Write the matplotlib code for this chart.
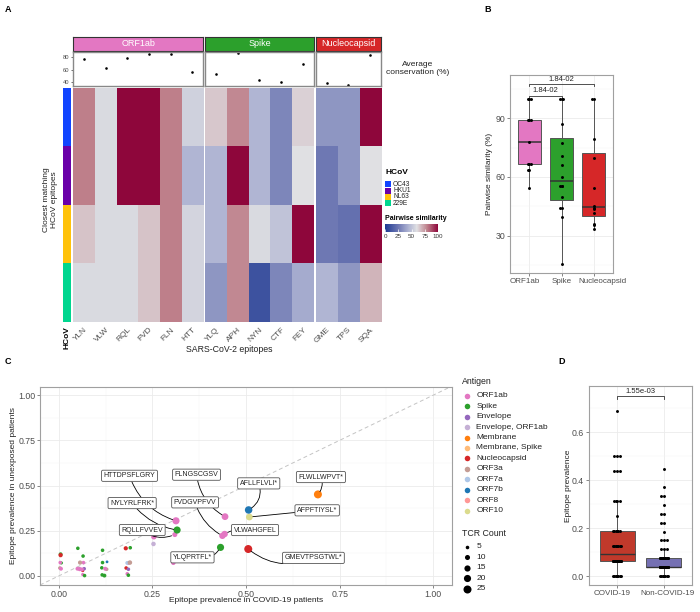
import numpy as np
import matplotlib
matplotlib.use('Agg')
import matplotlib.pyplot as plt
import matplotlib.transforms as mtransforms
from matplotlib.colors import LinearSegmentedColormap, ListedColormap, Normalize
from matplotlib.cm import ScalarMappable
from matplotlib.patches import Rectangle

plt.rcParams['font.family'] = ['Liberation Sans', 'DejaVu Sans']

W, H = 700, 612

# ---------------- panel A data
epitopes = ['YLN', 'VLW', 'RQL', 'FVD', 'FLN', 'HTT',
            'YLQ', 'APH', 'NYN', 'CTF', 'FEY',
            'GME', 'TPS', 'SQA']
blocks = ['ORF1ab', 'Spike', 'Nucleocapsid']
block_sizes = [6, 5, 3]
hcovs = ['OC43', 'HKU1', 'NL63', '229E']
conservation = [77, 62, 79, 85, 85, 56, 53, 87, 43, 40, 70, 38, 35, 84]
# pairwise similarity (%), rows = hcovs
similarity = [
    [80, 58, 100, 100, 80, 55, 65, 78, 45, 30, 63, 35, 35, 100],
    [80, 58, 100, 100, 80, 45, 45, 100, 45, 30, 60, 25, 35, 60],
    [66, 58, 58, 66, 80, 56, 45, 78, 58, 50, 100, 25, 22, 100],
    [58, 58, 58, 66, 80, 56, 35, 78, 10, 30, 42, 45, 35, 69],
]

# ---------------- panel B data
b_groups = ['ORF1ab', 'Spike', 'Nucleocapsid']
b_orf1ab = [54.5, 63.6, 63.6, 66.7, 66.7, 66.7, 77.8, 88.9, 88.9, 88.9, 100, 100, 100]
b_spike = [15.4, 39.7, 44.4, 44.4, 49.6, 55.2, 55.2, 55.6, 59.8, 66.3, 70.9, 77.2, 86.9, 100, 100, 100]
b_nucleo = [33.3, 35.4, 36.0, 41.4, 43.5, 44.4, 45.2, 54.2, 69.5, 79.6, 100, 100]

# ---------------- panel C data
antigens = ['ORF1ab', 'Spike', 'Envelope', 'Envelope, ORF1ab', 'Membrane', 'Membrane, Spike',
            'Nucleocapsid', 'ORF3a', 'ORF7a', 'ORF7b', 'ORF8', 'ORF10']
antigen_colors = ['#E377C2', '#2CA02C', '#9467BD', '#C5B0D5', '#FF7F0E', '#FFBB78',
                  '#D62728', '#C49C94', '#AEC7E8', '#1F77B4', '#FF9896', '#DBDB8D']
c_covid = [0.005, 0.005, 0.004, 0.007, 0.003, 0.006,
           0.051, 0.065, 0.057, 0.066, 0.050, 0.056, 0.062, 0.068, 0.064, 0.064, 0.069,
           0.117, 0.117, 0.129, 0.115, 0.124, 0.128, 0.116, 0.122,
           0.179, 0.191, 0.183, 0.190, 0.186, 0.180, 0.186, 0.183, 0.186,
           0.254, 0.253, 0.306,
           0.313, 0.316, 0.310, 0.444, 0.437, 0.443, 0.507, 0.509, 0.692, 0.432, 0.506]
c_unexp = [0.120, 0.115, 0.074, 0.072, 0.044, 0.040,
           0.153, 0.110, 0.074, 0.074, 0.040, 0.038, 0.036, 0.040, 0.030, 0.008, 0.002,
           0.142, 0.074, 0.078, 0.045, 0.040, 0.037, 0.006, 0.002,
           0.153, 0.156, 0.072, 0.074, 0.070, 0.044, 0.037, 0.012, 0.004,
           0.217, 0.177, 0.073,
           0.305, 0.254, 0.229, 0.328, 0.222, 0.232, 0.365, 0.326, 0.451, 0.158, 0.149]
c_antigen = ['Spike', 'Nucleocapsid', 'ORF1ab', 'Spike', 'ORF3a', 'ORF1ab',
             'Spike', 'Spike', 'ORF3a', 'ORF1ab', 'ORF1ab', 'ORF1ab', 'ORF1ab', 'Envelope',
             'Nucleocapsid', 'ORF1ab', 'Spike',
             'Spike', 'Spike', 'ORF7b', 'Spike', 'ORF1ab', 'ORF3a', 'Spike', 'Spike',
             'Nucleocapsid', 'Spike', 'ORF7a', 'ORF3a', 'ORF1ab', 'Nucleocapsid', 'Envelope',
             'ORF1ab', 'Spike',
             'ORF1ab', 'Envelope, ORF1ab', 'ORF1ab',
             'ORF1ab', 'Spike', 'ORF1ab', 'ORF1ab', 'ORF1ab', 'ORF1ab', 'ORF7b', 'ORF10',
             'Membrane', 'Spike', 'Nucleocapsid']
c_tcr = [6, 7, 5, 4, 5, 6,
         5, 5, 7, 5, 6, 7, 6, 5, 4, 4, 5,
         5, 5, 3, 5, 6, 5, 5, 6,
         7, 5, 6, 8, 4, 5, 5, 5, 5,
         12, 8, 8,
         20, 20, 10, 18, 16, 16, 22, 18, 25, 20, 25]
c_label = [''] * 37 + ['HTTDPSFLGRY', 'NYLYRLFRK*', 'RQLLFVVEV', 'FLNGSCGSV', 'FVDGVPFVV',
                       'VLWAHGFEL', 'AFLLFLVLI*', 'AFPFTIYSL*', 'FLWLLWPVT*', 'YLQPRTFL*',
                       'GMEVTPSGTWL*']
# where the repelled label boxes sit (data coords) and their leader curvature
label_pos = {'HTTDPSFLGRY': (0.189, 0.554, 0.25), 'NYLYRLFRK*': (0.196, 0.403, 0.2),
             'RQLLFVVEV': (0.223, 0.254, 0.3), 'FLNGSCGSV': (0.368, 0.560, 0.25),
             'FVDGVPFVV': (0.364, 0.407, 0.2), 'VLWAHGFEL': (0.524, 0.254, 0.2),
             'AFLLFLVLI*': (0.534, 0.512, -0.4), 'AFPFTIYSL*': (0.690, 0.363, 0.0),
             'FLWLLWPVT*': (0.700, 0.547, -0.3), 'YLQPRTFL*': (0.357, 0.103, 0.4),
             'GMEVTPSGTWL*': (0.680, 0.100, -0.3)}
tcr_legend = [5, 10, 15, 20, 25]

# ---------------- panel D data
d_groups = ['COVID-19', 'Non-COVID-19']
covid_levels = [0, 0.0625, 0.125, 0.1875, 0.25, 0.3125, 0.4375, 0.5, 0.6875]
covid_counts = [8, 18, 8, 6, 1, 4, 3, 3, 1]
noncovid_levels = [0, 0.037, 0.074, 0.111, 0.148, 0.185, 0.222, 0.259, 0.296, 0.333, 0.370, 0.444]
noncovid_counts = [8, 26, 17, 3, 3, 1, 2, 2, 1, 2, 1, 1]

TXT = '#4D4D4D'
fig = plt.figure(figsize=(7, 6.12), dpi=100)


def px_axes(x0, y0, x1, y1):
    return fig.add_axes([x0 / W, 1 - y1 / H, (x1 - x0) / W, (y1 - y0) / H])


def ftext(x, y, s, **kw):
    return fig.text(x / W, 1 - y / H, s, **kw)


def tcr_size(c):
    d = 1.6 * np.sqrt(c)  # diameter in px
    return (d * 0.72) ** 2


def jitter(vals, step):
    cyc = [0, -1, 1, -0.5, 0.5, -1.5, 1.5, -0.25, 0.25]
    seen = {}
    out = []
    for v in vals:
        k = seen.get(v, 0)
        seen[v] = k + 1
        out.append(cyc[k % len(cyc)] * step)
    return np.array(out)


def shift_ticklabels(ax, dxs):
    # nudge x tick labels sideways (in px) the way they sit in the original
    for lab, dx in zip(ax.get_xticklabels(), dxs):
        off = mtransforms.ScaledTranslation(dx / 100, 0, fig.dpi_scale_trans)
        lab.set_transform(lab.get_transform() + off)


def bw_style(ax):
    ax.set_facecolor('white')
    for s in ax.spines.values():
        s.set_color('#A0A0A0')
        s.set_linewidth(0.8)
    ax.grid(True, which='major', color='#EBEBEB', lw=0.6)
    ax.grid(True, which='minor', color='#F5F5F5', lw=0.35)
    ax.set_axisbelow(True)
    ax.tick_params(which='major', labelsize=6.3, labelcolor=TXT, color='#555555', length=2, width=0.5, pad=1.5)
    ax.tick_params(which='minor', length=0)


ov = fig.add_axes([0, 0, 1, 1])
ov.set_xlim(0, W)
ov.set_ylim(H, 0)
ov.axis('off')

# ================= A
cmap = LinearSegmentedColormap.from_list(
    'sim', [(0, '#1E3A93'), (0.25, '#6E78B3'), (0.45, '#B0B5D3'), (0.6, '#E0E0E3'),
            (0.8, '#BE7F8A'), (1, '#8E063B')])
block_colors = ['#E377C2', '#2CA02C', '#D62728']
hcov_colors = ['#1144FF', '#6A00A8', '#FFC20A', '#00D68F']
sim = np.array(similarity)
col0 = 0
xl = 73.0
cw = 21.7
for bi, (name, n, color) in enumerate(zip(blocks, block_sizes, block_colors)):
    x1 = xl + n * cw
    hdr = px_axes(xl, 37, x1, 51)
    hdr.set_facecolor(color)
    hdr.set_xticks([])
    hdr.set_yticks([])
    for s in hdr.spines.values():
        s.set_color('#333333')
        s.set_linewidth(0.8)
    hdr.text(0.5, 0.5, name, color='white', fontsize=6.5, ha='center', va='center', transform=hdr.transAxes)

    cons = px_axes(xl, 52, x1, 86)
    cons.scatter(np.arange(n), conservation[col0:col0 + n], s=3.5, color='black', lw=0)
    cons.set_xlim(-0.5, n - 0.5)
    cons.set_ylim(33, 89)
    cons.set_xticks([])
    for s in cons.spines.values():
        s.set_color('#888888')
        s.set_linewidth(1.0)
    if bi == 0:
        cons.set_yticks([40, 60, 80])
        cons.tick_params(axis='y', labelsize=4.2, labelcolor=TXT, length=1.5, width=0.4, pad=1)
    else:
        cons.set_yticks([])

    hm = px_axes(xl, 88, x1, 322)
    hm.imshow(sim[:, col0:col0 + n], cmap=cmap, vmin=0, vmax=100, aspect='auto', interpolation='nearest')
    hm.set_xticks(range(n))
    hm.set_xticklabels(epitopes[col0:col0 + n], rotation=45, ha='right', va='top',
                       rotation_mode='anchor', fontsize=6, color=TXT)
    hm.tick_params(axis='x', length=0, pad=3)
    hm.set_yticks([])
    for s in hm.spines.values():
        s.set_visible(False)
    col0 += n
    xl = x1 + 2

strip = px_axes(63, 88, 71, 322)
strip.imshow(np.arange(len(hcovs)).reshape(-1, 1), cmap=ListedColormap(hcov_colors),
             aspect='auto', interpolation='nearest')
strip.set_xticks([0])
strip.set_xticklabels(['HCoV'], rotation=90, ha='right', va='center', rotation_mode='anchor',
                      fontsize=6, fontweight='bold')
strip.tick_params(axis='x', length=0, pad=3)
strip.set_yticks([])
for s in strip.spines.values():
    s.set_visible(False)

ftext(51, 200, 'Closest matching\nHCoV epitopes', rotation=90, fontsize=6, ha='center', va='center',
      multialignment='center', color='#222222')
ftext(229, 350, 'SARS-CoV-2 epitopes', fontsize=6.3, ha='center', va='center', color='#222222')
ftext(418, 68, 'Average\nconservation (%)', fontsize=6, ha='center', va='center',
      multialignment='center', color='#222222', linespacing=1.2)

# HCoV legend
ov.text(385, 172, 'HCoV', fontsize=6, fontweight='bold', ha='left', va='center')
for i, (h, c) in enumerate(zip(hcovs, hcov_colors)):
    yy = 184.3 + 6.35 * i
    ov.add_patch(Rectangle((385, yy - 3), 6, 6, color=c, lw=0))
    ov.text(393, yy, h, fontsize=4.8, ha='left', va='center', color='#222222')
ov.text(385, 219, 'Pairwise similarity', fontsize=5, fontweight='bold', ha='left', va='center')
cax = px_axes(385, 224, 438, 232)
cb = fig.colorbar(ScalarMappable(Normalize(0, 100), cmap), cax=cax, orientation='horizontal',
                  ticks=[0, 25, 50, 75, 100])
cb.outline.set_visible(False)
cax.tick_params(labelsize=4.5, length=2, width=0.5, color='white', direction='in', pad=1.5, labelcolor='#333333')

# ================= B
axB = px_axes(510, 75, 613, 273)
bw_style(axB)
b_data = [b_orf1ab, b_spike, b_nucleo]
bp = axB.boxplot(b_data, positions=[1, 2, 3], widths=0.72, patch_artist=True, showfliers=False,
                 showcaps=False, whis=1.5,
                 medianprops=dict(color='#333333', lw=1.1),
                 whiskerprops=dict(color='#555555', lw=0.7),
                 boxprops=dict(edgecolor='#555555', lw=0.7))
for patch, c in zip(bp['boxes'], block_colors):
    patch.set_facecolor(c)
for i, vals in enumerate(b_data):
    axB.scatter(i + 1 + jitter(vals, 0.05), vals, s=4.5, color='black', lw=0, zorder=3)
axB.set_xlim(0.4, 3.6)
axB.set_ylim(11, 112)
axB.set_xticks([1, 2, 3])
axB.set_xticklabels(b_groups, fontsize=5.8)
shift_ticklabels(axB, [-5, 0, 9])
axB.set_yticks([30, 60, 90])
axB.set_yticks([15, 45, 75, 105], minor=True)
axB.plot([1, 1, 2, 2], [100, 101.5, 101.5, 100], color='#333333', lw=0.6)
axB.text(1.5, 102.2, '1.84-02', fontsize=5.5, ha='center', va='bottom', color='#222222')
axB.plot([1, 1, 3, 3], [106.2, 107.4, 107.4, 106.2], color='#333333', lw=0.6)
axB.text(2, 108.1, '1.84-02', fontsize=5.5, ha='center', va='bottom', color='#222222')
ftext(490, 174, 'Pairwise similarity (%)', rotation=90, fontsize=6, ha='center', va='center', color='#222222')

# ================= C
axC = px_axes(40, 387, 452, 585)
bw_style(axC)
axC.axline((0, 0), slope=1, color='#C4C4C4', lw=0.7, ls=(0, (4, 3)), zorder=1)
order = np.argsort(c_tcr, kind='stable')
cx = np.array(c_covid)[order]
cy = np.array(c_unexp)[order]
cc = [antigen_colors[antigens.index(c_antigen[i])] for i in order]
cs = [tcr_size(c_tcr[i]) for i in order]
axC.scatter(cx, cy, s=cs, c=cc, lw=0, zorder=3)
for x, y, lab in zip(c_covid, c_unexp, c_label):
    if not lab:
        continue
    tx, ty, rad = label_pos[lab]
    axC.annotate(lab, xy=(x, y), xytext=(tx, ty), fontsize=5, ha='center', va='center', color='#222222',
                 bbox=dict(boxstyle='round,pad=0.3,rounding_size=0.2', fc='white', ec='#555555', lw=0.6),
                 arrowprops=dict(arrowstyle='-', color='black', lw=0.6, shrinkA=0, shrinkB=2.5,
                                 connectionstyle='arc3,rad=%s' % rad), zorder=4)
axC.set_xlim(-0.05, 1.05)
axC.set_ylim(-0.05, 1.045)
ticks = [0, 0.25, 0.5, 0.75, 1.0]
axC.set_xticks(ticks)
axC.set_xticklabels(['%.2f' % t for t in ticks])
axC.set_yticks(ticks)
axC.set_yticklabels(['%.2f' % t for t in ticks])
axC.set_xticks([0.125, 0.375, 0.625, 0.875], minor=True)
axC.set_yticks([0.125, 0.375, 0.625, 0.875], minor=True)
ftext(246, 601, 'Epitope prevalence in COVID-19 patients', fontsize=6, ha='center', va='center', color='#222222')
ftext(14, 486, 'Epitope prevalence in unexposed patients', rotation=90, fontsize=6, ha='center',
      va='center', color='#222222')

# Antigen legend
ov.text(462, 382, 'Antigen', fontsize=6.3, ha='left', va='center', color='#222222')
for i, (a, c) in enumerate(zip(antigens, antigen_colors)):
    yy = 395.7 + 10.45 * i
    ov.scatter(467, yy, s=tcr_size(12), color=c, lw=0)
    ov.text(476.5, yy, a, fontsize=6, ha='left', va='center', color='#222222')
ov.text(462, 533, 'TCR Count', fontsize=6.3, ha='left', va='center', color='#222222')
for i, t in enumerate(tcr_legend):
    yy = 546.7 + 10.5 * i
    ov.scatter(467, yy, s=tcr_size(t), color='black', lw=0)
    ov.text(476.5, yy, str(t), fontsize=6, ha='left', va='center', color='#222222')

# ================= D
axD = px_axes(589, 386, 692, 585)
bw_style(axD)
covid_vals = np.repeat(covid_levels, covid_counts)
noncovid_vals = np.repeat(noncovid_levels, noncovid_counts)
d_data = [covid_vals, noncovid_vals]
bp = axD.boxplot(d_data, positions=[1, 2], widths=0.75, patch_artist=True, showfliers=False,
                 showcaps=False, whis=1.5,
                 medianprops=dict(color='#333333', lw=1.0),
                 whiskerprops=dict(color='#555555', lw=0.7),
                 boxprops=dict(edgecolor='#555555', lw=0.7))
for patch, c in zip(bp['boxes'], ['#C0392B', '#7570B3']):
    patch.set_facecolor(c)
for i, vals in enumerate(d_data):
    axD.scatter(i + 1 + jitter(list(vals), 0.06), vals, s=4.5, color='black', lw=0, zorder=3)
axD.set_xlim(0.4, 2.6)
axD.set_ylim(-0.0375, 0.792)
axD.set_xticks([1, 2])
axD.set_xticklabels(d_groups, fontsize=5.8)
shift_ticklabels(axD, [-5, 4])
axD.set_yticks([0, 0.2, 0.4, 0.6])
axD.set_yticklabels(['0.0', '0.2', '0.4', '0.6'])
axD.set_yticks([0.1, 0.3, 0.5, 0.7], minor=True)
axD.plot([1, 1, 2, 2], [0.738, 0.75, 0.75, 0.738], color='#333333', lw=0.6)
axD.text(1.5, 0.754, '1.55e-03', fontsize=5.5, ha='center', va='bottom', color='#222222')
ftext(568, 486, 'Epitope prevalence', rotation=90, fontsize=6, ha='center', va='center', color='#222222')

# panel letters
for lab, (x, y) in zip('ABCD', [(8, 10), (488, 9), (8, 362), (562, 362)]):
    ftext(x, y, lab, fontsize=6.5, fontweight='bold', ha='center', va='center')

fig.savefig('out.png', dpi=100)
